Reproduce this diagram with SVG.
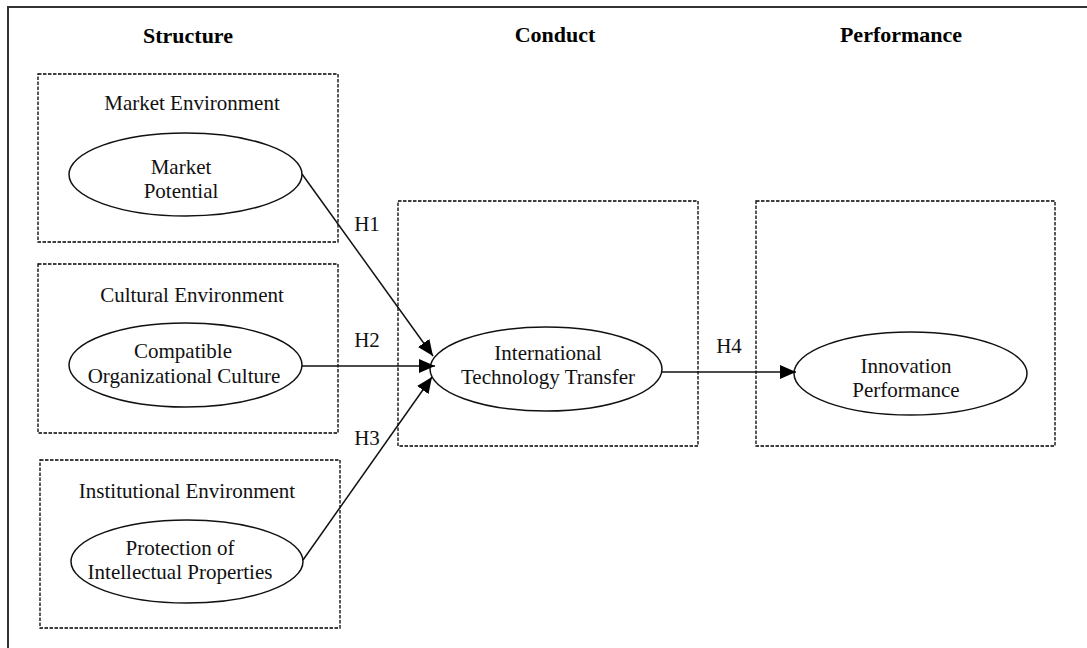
<svg xmlns="http://www.w3.org/2000/svg" width="1087" height="648" viewBox="0 0 1087 648">
<style>
.title{font-family:"Liberation Serif","Times New Roman",serif;font-weight:bold;font-size:22px;fill:#000;text-anchor:middle}
.lbl{font-family:"Liberation Serif","Times New Roman",serif;font-size:21px;fill:#111;text-anchor:middle}
.box{fill:none;stroke:#000;stroke-width:1.3;stroke-dasharray:3.5,1.5}
.ell{fill:#fff;stroke:#111;stroke-width:1.5}
.conn{fill:none;stroke:#111;stroke-width:1.5}
</style>
<defs>
<marker id="arr" markerUnits="userSpaceOnUse" markerWidth="17" markerHeight="14" refX="16" refY="7" orient="auto">
<path d="M0,0 L16,7 L0,14 Z" fill="#000"/>
</marker>
</defs>
<rect width="1087" height="648" fill="#fff"/>
<path d="M8,648 L8,7 L1087,7" fill="none" stroke="#333" stroke-width="2"/>
<text class="title" x="188" y="43">Structure</text>
<text class="title" x="555" y="42">Conduct</text>
<text class="title" x="901" y="42">Performance</text>

<g id="market">
<rect class="box" x="38" y="74" width="300" height="168"/>
<text class="lbl" x="192" y="110">Market Environment</text>
<ellipse class="ell" cx="185.5" cy="174.5" rx="116.5" ry="41.5"/>
<text class="lbl" x="181" y="174">Market</text>
<text class="lbl" x="181" y="198">Potential</text>
</g>
<g id="cultural">
<rect class="box" x="38" y="264" width="300" height="169"/>
<text class="lbl" x="192" y="302">Cultural Environment</text>
<ellipse class="ell" cx="185.5" cy="365" rx="116.5" ry="42"/>
<text class="lbl" x="183" y="358">Compatible</text>
<text class="lbl" x="184" y="383">Organizational Culture</text>
</g>
<g id="institutional">
<rect class="box" x="40" y="460" width="300" height="168"/>
<text class="lbl" x="187" y="498">Institutional Environment</text>
<ellipse class="ell" cx="187" cy="561.5" rx="116" ry="41.5"/>
<text class="lbl" x="180" y="555">Protection of</text>
<text class="lbl" x="180" y="579">Intellectual Properties</text>
</g>
<g id="conduct">
<rect class="box" x="398" y="201" width="300" height="245"/>
<ellipse class="ell" cx="546" cy="369" rx="116" ry="42"/>
<text class="lbl" x="548" y="360">International</text>
<text class="lbl" x="548" y="384">Technology Transfer</text>
</g>
<g id="performance">
<rect class="box" x="756" y="201" width="299" height="245"/>
<ellipse class="ell" cx="910.5" cy="373.5" rx="116.5" ry="41.5"/>
<text class="lbl" x="906" y="373">Innovation</text>
<text class="lbl" x="906" y="397">Performance</text>
</g>
<g id="connectors">
<line class="conn" x1="302" y1="174" x2="433" y2="356" marker-end="url(#arr)"/>
<line class="conn" x1="302" y1="366" x2="435" y2="366" marker-end="url(#arr)"/>
<line class="conn" x1="303" y1="560" x2="432" y2="377" marker-end="url(#arr)"/>
<line class="conn" x1="662" y1="372" x2="796" y2="372" marker-end="url(#arr)"/>
<text class="lbl" x="367" y="231">H1</text>
<text class="lbl" x="367" y="347">H2</text>
<text class="lbl" x="367" y="445">H3</text>
<text class="lbl" x="729" y="353">H4</text>
</g>
</svg>
